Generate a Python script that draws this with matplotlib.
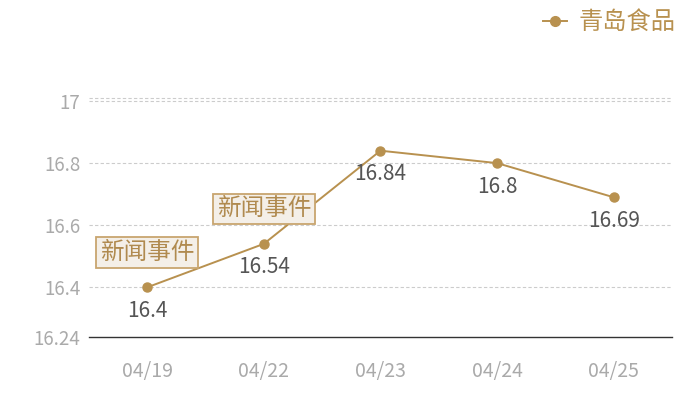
import matplotlib
matplotlib.use('Agg')
import matplotlib.pyplot as plt
from matplotlib.lines import Line2D

plt.rcParams['font.family'] = ['Noto Sans CJK SC', 'DejaVu Sans']

dates = ['04/19', '04/22', '04/23', '04/24', '04/25']
prices = [16.4, 16.54, 16.84, 16.8, 16.69]
series_name = '青岛食品'
events = ['新闻事件', '新闻事件', None, None, None]
y_ticks = [16.24, 16.4, 16.6, 16.8, 17]

gold = '#b8914f'
px = 72 / 100.0  # points per pixel

fig = plt.figure(figsize=(7, 4), dpi=100)
ax = fig.add_axes([0.127, 0.1575, 0.833, 0.6055])

x = list(range(len(dates)))
ax.plot(x, prices, color=gold, lw=1.4, marker='o', ms=6.5, zorder=3)

for i, v in enumerate(prices):
    ax.annotate(str(v), (i, v), xytext=(0, -23.5 * px), textcoords='offset points',
                ha='center', va='center', fontsize=15, color='#555555', zorder=4)
    if events[i]:
        ax.annotate(events[i], (i, v), xytext=(0, 35 * px), textcoords='offset points',
                    ha='center', va='center', fontsize=17, color='#b08a4f', zorder=5,
                    bbox=dict(boxstyle='square,pad=0.16', fc='#f4efe8', ec='#c8a56f', lw=1.3))

for y in y_ticks[1:]:
    ax.axhline(y, color='#cccccc', lw=0.8, ls=(0, (3, 2)), zorder=1)
ax.axhline(17.01, color='#cccccc', lw=0.8, ls=(0, (3, 2)), zorder=1)

ax.set_xlim(-0.5, len(dates) - 0.5)
ax.set_ylim(16.24, 17.02)
ax.set_xticks(x)
ax.set_xticklabels(dates)
ax.set_yticks(y_ticks)
ax.set_yticklabels(['16.24', '16.4', '16.6', '16.8', '17'])
ax.tick_params(axis='x', length=0, pad=17, labelsize=14, labelcolor='#aaaaaa')
ax.tick_params(axis='y', length=0, pad=6, labelsize=13.5, labelcolor='#aaaaaa')
for s in ['top', 'right', 'left']:
    ax.spines[s].set_visible(False)
ax.spines['bottom'].set_color('#333333')
ax.spines['bottom'].set_linewidth(1)

handle = Line2D([], [], color=gold, lw=1.4, marker='o', ms=7)
fig.legend([handle], [series_name], loc='upper right', bbox_to_anchor=(0.99, 1.02),
           frameon=False, fontsize=17.5, labelcolor=gold, handlelength=1.0,
           handletextpad=0.5, borderaxespad=0.3)

fig.savefig('out.png', dpi=100)
